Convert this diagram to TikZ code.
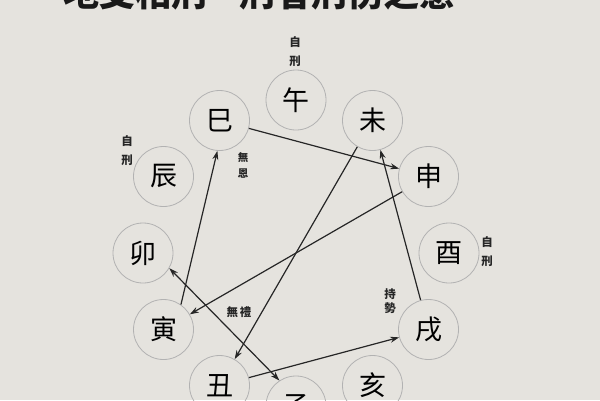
\documentclass[tikz,border=0pt]{standalone}
\usepackage{fontspec}
\newfontfamily\cjk{Noto Sans CJK SC}
\usetikzlibrary{arrows.meta}
\definecolor{paper}{RGB}{229,227,222}
\begin{document}
\begin{tikzpicture}[x=1pt,y=-1pt,
  branch/.style={circle,draw=black!30,line width=0.8pt,minimum size=60pt,inner sep=0pt,
    font=\cjk\fontsize{27}{27}\selectfont,text=black},
  note/.style={font=\cjk\bfseries\fontsize{11.5}{19}\selectfont,text=black!85,inner sep=0pt,align=center},
  tip/.tip={Stealth[length=9pt,width=6pt]},
  link/.style={draw=black!85,line width=1.2pt,-tip}]
\fill[paper] (0,0) rectangle (600,400);
\useasboundingbox (0,0) rectangle (600,400);
\clip (0,0) rectangle (600,400);
\node[font=\cjk\bfseries\fontsize{36}{36}\selectfont,anchor=base,text=black!90] (title) at (259.5,6) {地支相刑—刑者刑伤之意};
\node[branch] (wu) at (296,100) {午};
\node[branch] (si) at (219.5,120.5) {巳};
\node[branch] (wei) at (372.5,120.5) {未};
\node[branch] (shen) at (428.5,176.5) {申};
\node[branch] (you) at (449,253) {酉};
\node[branch] (xu) at (428.5,329.5) {戌};
\node[branch] (hai) at (372.5,385.5) {亥};
\node[branch] (zi) at (296,406) {子};
\node[branch] (chou) at (219.5,385.5) {丑};
\node[branch] (yin) at (163.5,329.5) {寅};
\node[branch] (mao) at (143,253) {卯};
\node[branch] (chen) at (163.5,176.5) {辰};
\node[note] (n1) at (295,52) {自\\刑};
\node[note] (n2) at (127,151) {自\\刑};
\node[note] (n3) at (487,252) {自\\刑};
\node[note,font=\cjk\bfseries\fontsize{10.5}{16}\selectfont] (n4) at (243,165) {無\\恩};
\node[note,font=\cjk\bfseries\fontsize{11.5}{14}\selectfont] (n5) at (390,301) {持\\勢};
\node[note,font=\cjk\bfseries\fontsize{11.5}{11}\selectfont] (n6) at (239,312) {無\,禮};
\draw[link] (si) -- (shen);
\draw[link] (xu) -- (wei);
\draw[link] (wei) -- (chou);
\draw[link] (shen) -- (yin);
\draw[link] (yin.55) -- (si.-94);
\draw[link,tip-tip] (mao.-30) -- (zi.123);
\draw[link] (chou) -- (xu);
\end{tikzpicture}
\end{document}
